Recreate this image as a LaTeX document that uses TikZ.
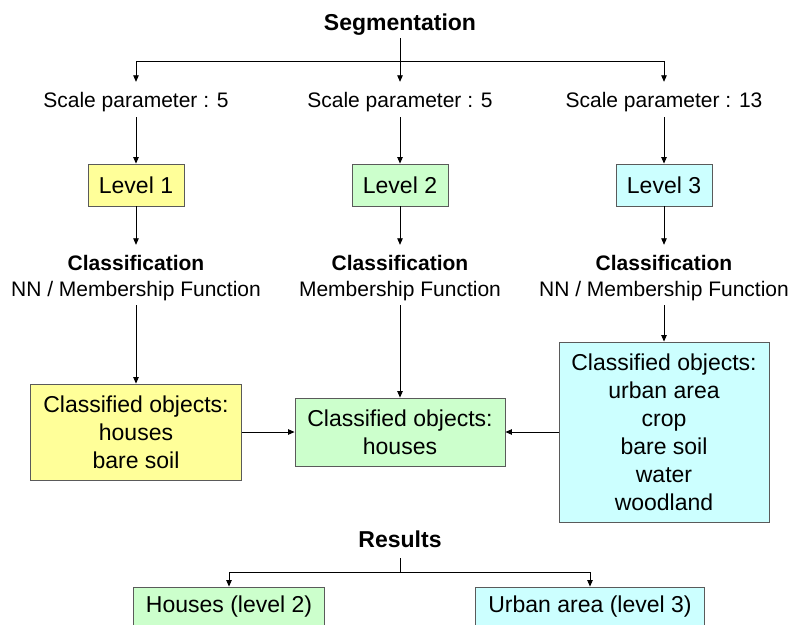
\documentclass[tikz,border=0pt]{standalone}
\usepackage{fontspec}
\setmainfont{Liberation Sans}
\usetikzlibrary{arrows.meta}
\definecolor{cyel}{HTML}{FFFF99}
\definecolor{cgrn}{HTML}{CCFFCC}
\definecolor{ccyn}{HTML}{CCFFFF}
\definecolor{cbrd}{HTML}{5A5A5A}
\begin{document}
\begin{tikzpicture}[x=1pt,y=-1pt,
  line/.style={line width=0.8pt,draw=black},
  arr/.style={line, -{Triangle[length=6.5pt,width=5.5pt]}},
  lbl/.style={inner sep=0pt, anchor=base, font=\fontsize{21}{25}\selectfont},
  bold/.style={inner sep=0pt, anchor=base, font=\fontsize{21}{25}\selectfont\bfseries},
  ttl/.style={inner sep=0pt, anchor=base, font=\fontsize{23}{27}\selectfont\bfseries},
  bx/.style={draw=cbrd, line width=0.9pt, inner sep=0pt, align=center, font=\fontsize{23}{28}\selectfont},
]
\path[use as bounding box] (0,0) rectangle (789,624);
\clip (0,0) rectangle (789,624);
\fill[white] (0,0) rectangle (789,624);

% top
\node[ttl, text depth=8pt] (seg) at (400,30) {Segmentation};
\coordinate (j) at (400,61);

\node[lbl, text height=25pt, text depth=10pt] (s1) at (136,107) {Scale parameter : 5};
\node[lbl, text height=25pt, text depth=10pt] (s2) at (400,107) {Scale parameter : 5};
\node[lbl, text height=25pt, text depth=10pt] (s3) at (664,107) {Scale parameter : 13};

\node[bx, fill=cyel, minimum width=96pt, minimum height=42pt] (l1) at (136,185) {Level 1};
\node[bx, fill=cgrn, minimum width=96pt, minimum height=42pt] (l2) at (400,185) {Level 2};
\node[bx, fill=ccyn, minimum width=96pt, minimum height=42pt] (l3) at (664,185) {Level 3};

\node[bold, text height=25pt] (c1) at (136,270) {Classification};
\node[bold, text height=25pt] (c2) at (400,270) {Classification};
\node[bold, text height=25pt] (c3) at (664,270) {Classification};

\node[lbl, text depth=9pt] (m1) at (136,296) {NN / Membership Function};
\node[lbl, text depth=9pt] (m2) at (400,296) {Membership Function};
\node[lbl, text depth=9pt] (m3) at (664,296) {NN / Membership Function};

\node[bx, fill=cyel, minimum width=211pt, minimum height=96pt] (cb1) at (136,432) {Classified objects:\\houses\\bare soil};
\node[bx, fill=cgrn, minimum width=210pt, minimum height=68pt] (cb2) at (400,432) {Classified objects:\\houses};
\node[bx, fill=ccyn, minimum width=210pt, minimum height=180pt] (cb3) at (664,432) {Classified objects:\\urban area\\crop\\bare soil\\water\\woodland};

\node[ttl, text depth=11pt] (res) at (400,547) {Results};
\coordinate (jb) at (400,572);

\node[bx, fill=cgrn, minimum width=191pt, minimum height=40pt] (h1) at (229,607) {Houses (level 2)};
\node[bx, fill=ccyn, minimum width=229pt, minimum height=40pt] (h2) at (590,607) {Urban area (level 3)};

% connectors
\draw[line] (seg.south) -- (j);
\draw[arr] (j) -| (s1.north);
\draw[arr] (j) -- (s2.north);
\draw[arr] (j) -| (s3.north);

\draw[arr] (s1.south) -- (l1.north);
\draw[arr] (s2.south) -- (l2.north);
\draw[arr] (s3.south) -- (l3.north);

\draw[arr] (l1.south) -- (c1.north);
\draw[arr] (l2.south) -- (c2.north);
\draw[arr] (l3.south) -- (c3.north);

\draw[arr] (m1.south) -- (cb1.north);
\draw[arr] (m2.south) -- (cb2.north);
\draw[arr] (m3.south) -- (cb3.north);

\draw[arr] (cb1.east) -- (cb2.west);
\draw[arr] (cb3.west) -- (cb2.east);

\draw[line] (res.south) -- (jb);
\draw[arr] (jb) -| (h1.north);
\draw[arr] (jb) -| (h2.north);
\end{tikzpicture}
\end{document}
